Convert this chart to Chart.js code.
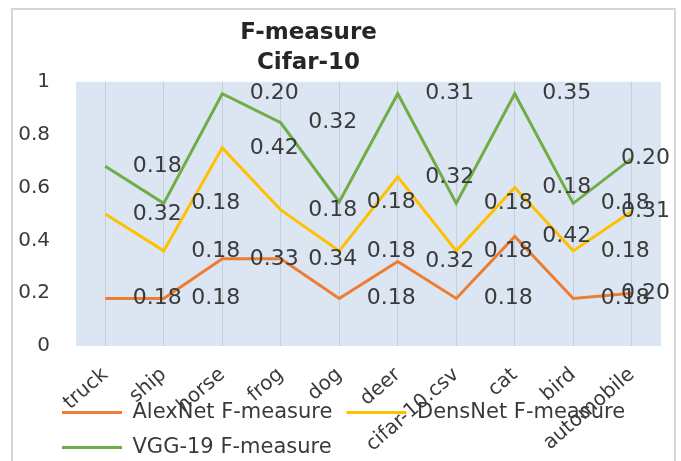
<!DOCTYPE html>
<html>
<head>
<meta charset="utf-8">
<script src="https://cdn.jsdelivr.net/npm/chart.js@4.4.0/dist/chart.umd.min.js"></script>
<style>
  html, body { margin: 0; padding: 0; background: #fff; }
  #wrap { width: 681px; height: 461px; position: relative; }
</style>
</head>
<body>
<div id="wrap"><canvas id="chart"></canvas></div>
<script>
const categories = ['truck', 'ship', 'horse', 'frog', 'dog', 'deer', 'cifar-10.csv', 'cat', 'bird', 'automobile'];
const yTickLabels = ['0', '0.2', '0.4', '0.6', '0.8', '1'];

// line values
const alexNet = [0.18, 0.18, 0.33, 0.33, 0.18, 0.32, 0.18, 0.415, 0.18, 0.2];
const densNet = [0.50, 0.36, 0.75, 0.515, 0.36, 0.64, 0.36, 0.60, 0.36, 0.51];
const vgg19 = [0.68, 0.54, 0.955, 0.845, 0.545, 0.955, 0.54, 0.955, 0.54, 0.71];

// the data labels printed next to each point (as shown in the chart)
const alexLabels = ['0.18', '0.18', '0.33', '0.34', '0.18', '0.32', '0.18', '0.42', '0.18', '0.20'];
const densLabels = ['0.32', '0.18', '0.42', '0.18', '0.18', '0.32', '0.18', '0.18', '0.18', '0.31'];
const vggLabels = ['0.18', '0.18', '0.20', '0.32', '0.18', '0.31', '0.18', '0.35', '0.18', '0.20'];

const fontFamily = '"DejaVu Sans", sans-serif';
const textColor = '#3a3a3a';

// light blue plot area and the outer frame
const backdrop = {
    id: 'backdrop',
    beforeDraw(chart) {
        const { ctx, chartArea: a } = chart;
        ctx.save();
        ctx.fillStyle = '#dce6f2';
        ctx.fillRect(a.left, a.top, a.right - a.left, a.bottom - a.top);
        ctx.strokeStyle = '#d6d6d6';
        ctx.lineWidth = 2;
        ctx.strokeRect(12, 9, 663, 460);
        ctx.restore();
    }
};

// value labels to the right of each point
const valueLabels = {
    id: 'valueLabels',
    afterDatasetsDraw(chart) {
        const { ctx } = chart;
        ctx.save();
        ctx.font = '22px ' + fontFamily;
        ctx.fillStyle = textColor;
        ctx.textAlign = 'center';
        ctx.textBaseline = 'middle';
        chart.data.datasets.forEach((ds, i) => {
            chart.getDatasetMeta(i).data.forEach((pt, j) => {
                const text = ds.pointLabels[j];
                const w = ctx.measureText(text).width;
                const x = Math.min(pt.x + 52, 670 - w / 2);
                ctx.fillText(text, x, pt.y);
            });
        });
        ctx.restore();
    }
};

// move title and legend to where Excel put them, let the x labels run into the legend
const nudge = {
    id: 'nudge',
    afterLayout(chart) {
        const t = chart.titleBlock;
        const l = chart.legend;
        const xs = chart.scales.x;
        t.left -= 28; t.right -= 28;
        l.left += 36; l.right += 36;
        l.top += 7; l.bottom += 7;
        xs.bottom = xs.top + 130;
        xs.height = 130;
    }
};

new Chart(document.getElementById('chart'), {
    type: 'line',
    data: {
        labels: categories,
        datasets: [
            { label: 'AlexNet F-measure', data: alexNet, borderColor: '#ed7d31', backgroundColor: '#ed7d31', pointLabels: alexLabels },
            { label: 'DensNet F-measure', data: densNet, borderColor: '#ffc000', backgroundColor: '#ffc000', pointLabels: densLabels },
            { label: 'VGG-19 F-measure', data: vgg19, borderColor: '#70ad47', backgroundColor: '#70ad47', pointLabels: vggLabels }
        ]
    },
    options: {
        responsive: true,
        maintainAspectRatio: false,
        animation: false,
        layout: { padding: { left: 12, right: 20, top: 10, bottom: 0 } },
        elements: {
            line: { borderWidth: 3, tension: 0 },
            point: { radius: 0, hoverRadius: 0, borderWidth: 3 }
        },
        scales: {
            x: {
                offset: true,
                grid: { color: '#c5cfdb', drawTicks: false, offset: false },
                border: { display: false },
                ticks: {
                    autoSkip: false,
                    minRotation: 41,
                    maxRotation: 41,
                    padding: 17,
                    color: textColor,
                    font: { family: fontFamily, size: 20 }
                },
                afterFit(scale) { scale.height = 35; }
            },
            y: {
                min: 0,
                max: 1,
                grid: { display: false, drawTicks: false },
                border: { display: false },
                ticks: {
                    stepSize: 0.2,
                    padding: 26,
                    color: textColor,
                    font: { family: fontFamily, size: 20 },
                    callback: (value, index) => yTickLabels[index]
                },
                afterFit(scale) { scale.width = 64; }
            }
        },
        plugins: {
            title: {
                display: true,
                text: ['F-measure', 'Cifar-10'],
                color: '#262626',
                font: { family: fontFamily, size: 23, weight: 'bold', lineHeight: 1.3 },
                padding: { top: 8, bottom: 4 }
            },
            legend: {
                position: 'bottom',
                align: 'start',
                labels: {
                    usePointStyle: true,
                    pointStyle: 'line',
                    pointStyleWidth: 60,
                    boxWidth: 60,
                    padding: 14,
                    color: textColor,
                    font: { family: fontFamily, size: 21 }
                }
            },
            tooltip: { enabled: false }
        }
    },
    plugins: [backdrop, valueLabels, nudge]
});
</script>
</body>
</html>
